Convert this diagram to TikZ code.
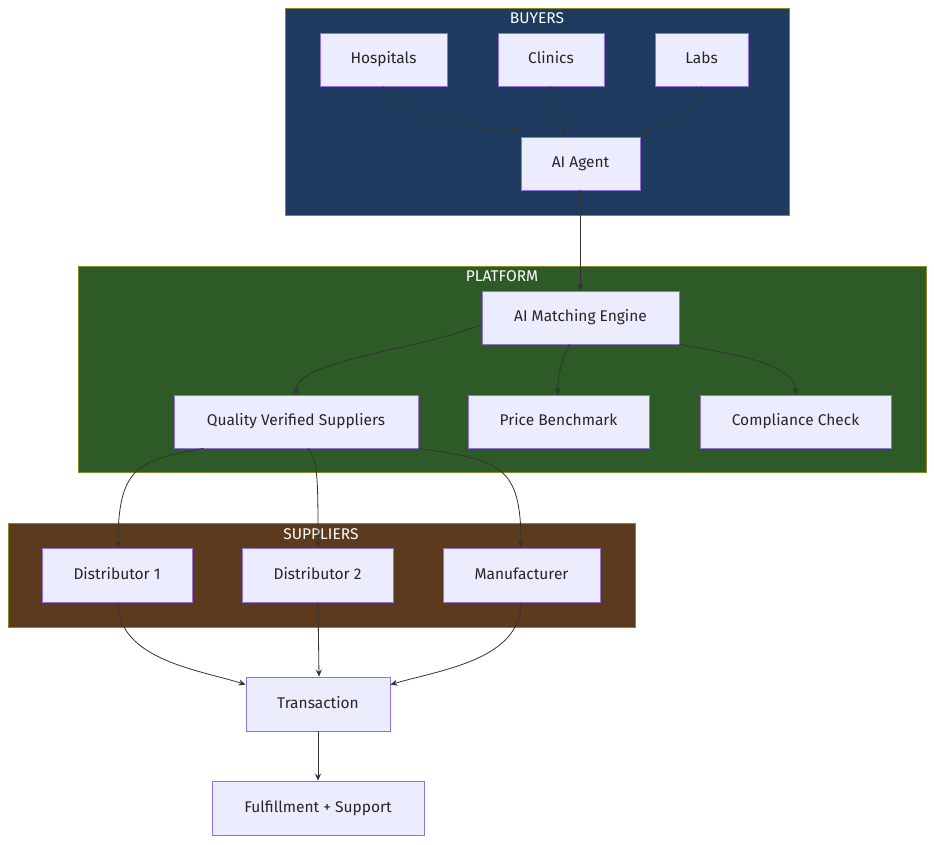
\documentclass[tikz,border=0pt]{standalone}
\usepackage{fontspec}
\setmainfont{Fira Sans}
\usetikzlibrary{arrows.meta}
\definecolor{nodefill}{HTML}{ECECFF}
\definecolor{nodeline}{HTML}{9370DB}
\definecolor{buyc}{HTML}{1F3A5F}
\definecolor{platc}{HTML}{2D5A27}
\definecolor{supc}{HTML}{5C3A1E}
\definecolor{grpline}{HTML}{AAAA33}
\begin{document}
\begin{tikzpicture}[x=1pt,y=-1pt,
  nd/.style={draw=nodeline,fill=nodefill,line width=0.8pt,font=\fontsize{15.5}{18}\selectfont,text=black!85,inner sep=0pt,text height=11pt,text depth=3pt},
  grp/.style={draw=grpline!80!black,line width=0.6pt},
  ttl/.style={text=white,font=\fontsize{15.5}{18}\selectfont,text height=11pt,text depth=3pt},
  ed/.style={draw=black!80,line width=0.8pt,-{Stealth[length=7pt,width=6pt]}}]
\useasboundingbox (0,0) rectangle (934,844);
\filldraw[fill=buyc,grp] (285,8) rectangle (789,215);
\node[ttl] (tb) at (537,19) {BUYERS};
\filldraw[fill=platc,grp] (78,266) rectangle (926,472);
\node[ttl] (tp) at (502,277) {PLATFORM};
\filldraw[fill=supc,grp] (8,523) rectangle (635,627);
\node[ttl] (ts) at (321,535) {SUPPLIERS};
\newcommand{\nbox}[6]{\node[nd,minimum width=#4-#2,minimum height=#5-#3] (#1) at ({(#2+#4)/2},{(#3+#5)/2}) {#6};}
\nbox{hosp}{320}{33}{447}{86}{Hospitals}
\nbox{clin}{498}{33}{604}{86}{Clinics}
\nbox{labs}{655}{33}{748}{86}{Labs}
\nbox{agent}{521}{137}{640}{190}{AI Agent}
\nbox{eng}{482}{291}{679}{344}{AI Matching Engine}
\nbox{qvs}{174}{395}{418}{448}{Quality Verified Suppliers}
\nbox{price}{468}{395}{649}{448}{Price Benchmark}
\nbox{comp}{700}{395}{891}{448}{Compliance Check}
\nbox{d1}{42}{548}{192}{602}{Distributor 1}
\nbox{d2}{242}{548}{393}{602}{Distributor 2}
\nbox{man}{443}{548}{600}{602}{Manufacturer}
\nbox{tx}{246}{677}{390}{731}{Transaction}
\nbox{ful}{212}{781}{424}{835}{Fulfillment + Support}
\draw[ed] (hosp.south) .. controls (384,115) and (470,130) .. ([yshift=6pt]agent.north west);
\draw[ed] (clin.south) .. controls (551,110) and (564,115) .. ([xshift=-16pt]agent.north);
\draw[ed] (labs.south) .. controls (701,115) and (660,125) .. ([yshift=2pt]agent.north east);
\draw[ed] (agent.south) -- (eng.north);
\draw[ed] ([yshift=-7pt]eng.west) .. controls (420,350) and (296,360) .. (qvs.north);
\draw[ed] ([xshift=-11pt]eng.south) .. controls (560,365) and (558,375) .. ([xshift=-1pt]price.north);
\draw[ed] (eng.south east) .. controls (740,355) and (795,365) .. (comp.north);
\draw[ed] ([xshift=30pt]qvs.south west) .. controls (140,460) and (118,465) .. ([xshift=1pt]d1.north);
\draw[ed] ([xshift=12pt]qvs.south) .. controls (318,460) and (318,480) .. ([xshift=0.5pt]d2.north);
\draw[ed] (qvs.south east) .. controls (500,460) and (521,465) .. ([xshift=-0.5pt]man.north);
\draw[ed] ([xshift=1pt]d1.south) .. controls (118,660) and (200,670) .. ([yshift=-8pt]tx.north west);
\draw[ed] ([xshift=0.5pt]d2.south) -- ([xshift=1pt]tx.north);
\draw[ed] ([xshift=-0.5pt]man.south) .. controls (521,660) and (440,670) .. ([yshift=-8pt]tx.north east);
\draw[ed] (tx.south) -- (ful.north);
\end{tikzpicture}
\end{document}
